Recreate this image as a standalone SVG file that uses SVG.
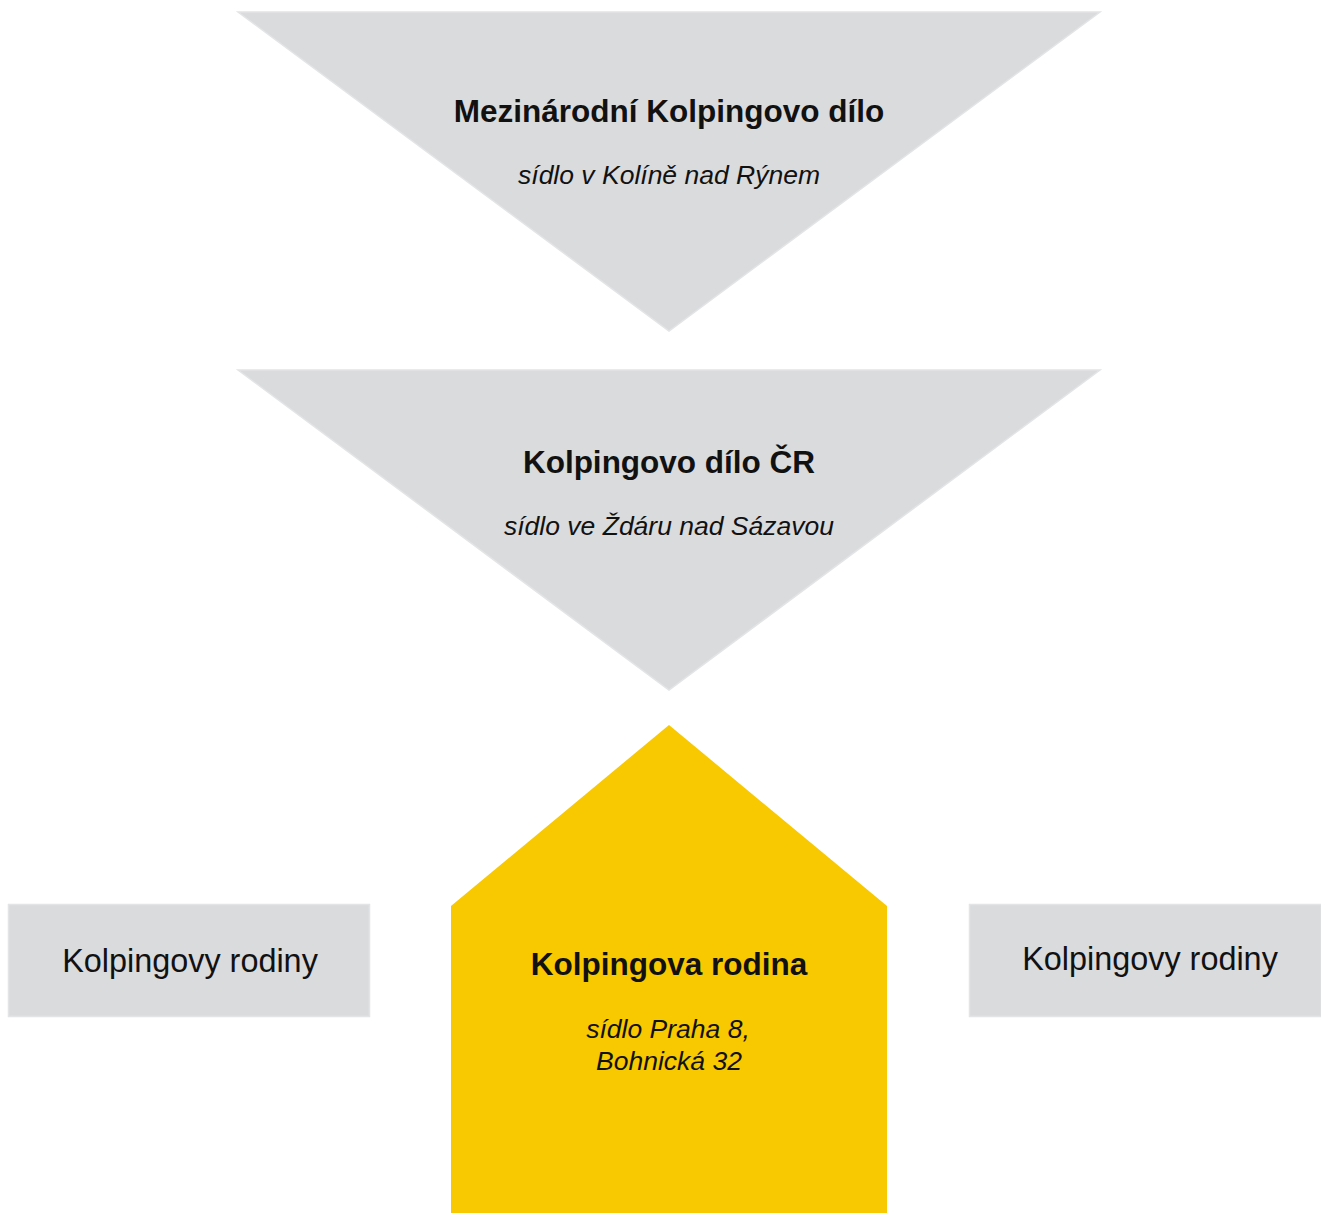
<svg xmlns="http://www.w3.org/2000/svg" width="1321" height="1213" viewBox="0 0 1321 1213">
<style>
.grey{fill:#dadbdd;stroke:#e3e4e6;stroke-width:1.5}
.yellow{fill:#f8c800}
text{font-family:"Liberation Sans",Arial,sans-serif;fill:#111;text-anchor:middle}
.t{font-weight:bold;font-size:31.5px}
.s{font-style:italic;font-size:26.5px}
.r{font-size:32.4px}
</style>
<rect width="1321" height="1213" fill="#fff"/>
<g id="connectors"></g>
<g id="node-mezinarodni">
<polygon class="grey" points="238,12 1100,12 669,331"/>
<text class="t" x="669" y="121.5">Mezinárodní Kolpingovo dílo</text>
<text class="s" x="669" y="184">sídlo v Kolíně nad Rýnem</text>
</g>
<g id="node-cr">
<polygon class="grey" points="238,370 1100,370 669,690"/>
<text class="t" x="669" y="473">Kolpingovo dílo ČR</text>
<text class="s" x="669" y="535">sídlo ve Ždáru nad Sázavou</text>
</g>
<g id="node-rodina">
<polygon class="yellow" points="669,725 887,906 887,1213 451,1213 451,906"/>
<text class="t" x="669" y="975">Kolpingova rodina</text>
<text class="s" x="668" y="1038">sídlo Praha 8,</text>
<text class="s" x="669" y="1070">Bohnická 32</text>
</g>
<g id="node-rodiny-left">
<rect class="grey" x="8.5" y="904.5" width="361" height="112"/>
<text class="r" x="190" y="972">Kolpingovy rodiny</text>
</g>
<g id="node-rodiny-right">
<rect class="grey" x="969.5" y="904.5" width="352" height="112"/>
<text class="r" x="1150" y="970">Kolpingovy rodiny</text>
</g>
</svg>
